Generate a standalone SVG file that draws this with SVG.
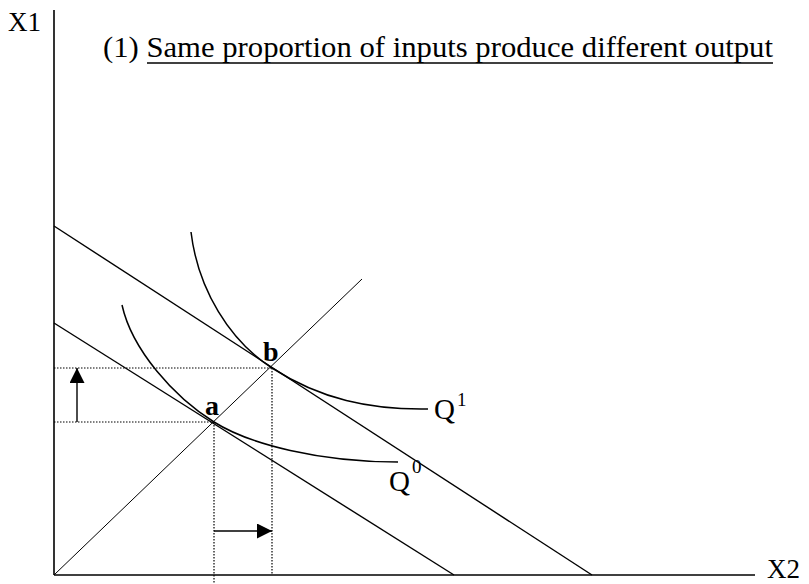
<svg xmlns="http://www.w3.org/2000/svg" width="809" height="584" viewBox="0 0 809 584">
<defs>
<style>
.ax{stroke:#000;stroke-width:1.6;fill:none}
.ln{stroke:#000;stroke-width:1.4;fill:none}
.ray{stroke:#000;stroke-width:1;fill:none}
.cv{stroke:#000;stroke-width:1.5;fill:none}
.dot{stroke:#000;stroke-width:1.2;stroke-dasharray:1.5 1.5;fill:none}
.t{font-family:"Liberation Serif","Times New Roman",serif;fill:#000}
</style>
<marker id="ah" viewBox="0 0 10 10" refX="10" refY="5" markerWidth="15" markerHeight="15" markerUnits="userSpaceOnUse" orient="auto">
<path d="M0,0 L10,5 L0,10 Z" fill="#000"/>
</marker>
</defs>
<rect width="809" height="584" fill="#fff"/>
<g id="axes">
<line class="ax" x1="54" y1="10" x2="54" y2="575"/>
<line class="ax" x1="54" y1="575" x2="755" y2="575"/>
<text class="t" x="8" y="31" font-size="27">X1</text>
<text class="t" x="767" y="578" font-size="27">X2</text>
</g>
<g id="title">
<text class="t" x="103" y="57" font-size="29" textLength="670" lengthAdjust="spacingAndGlyphs">(1) Same proportion of inputs produce different output</text>
<line x1="147" y1="63" x2="773" y2="63" stroke="#000" stroke-width="1.4"/>
</g>
<g id="connectors">
<line class="ln" x1="54" y1="226" x2="592" y2="575"/>
<line class="ln" x1="54" y1="323" x2="454" y2="575"/>
<line class="ray" x1="54" y1="575" x2="362" y2="279"/>
<line class="dot" x1="54" y1="368" x2="272" y2="368"/>
<line class="dot" x1="54" y1="422" x2="214" y2="422"/>
<line class="dot" x1="214" y1="422" x2="214" y2="584"/>
<line class="dot" x1="272" y1="368" x2="272" y2="575"/>
<line class="ln" x1="77" y1="422" x2="77" y2="368" stroke-width="1.8" marker-end="url(#ah)"/>
<line class="ln" x1="214" y1="531" x2="272" y2="531" stroke-width="1.8" marker-end="url(#ah)"/>
</g>
<g id="Q1">
<path class="cv" d="M191,232 C198,290 230,341 272,368 C320,399 370,410 428,409"/>
<text class="t" x="434" y="419" font-size="29">Q</text>
<text class="t" x="457" y="406" font-size="19">1</text>
</g>
<g id="Q0">
<path class="cv" d="M122,305 C132,350 174,397 214,422 C250,444.6 320,462 398,462"/>
<text class="t" x="389" y="491" font-size="29">Q</text>
<text class="t" x="412" y="473" font-size="19">0</text>
</g>
<g id="a">
<text class="t" x="205" y="415" font-size="28" font-weight="bold">a</text>
</g>
<g id="b">
<text class="t" x="263" y="361" font-size="28" font-weight="bold">b</text>
</g>
</svg>
